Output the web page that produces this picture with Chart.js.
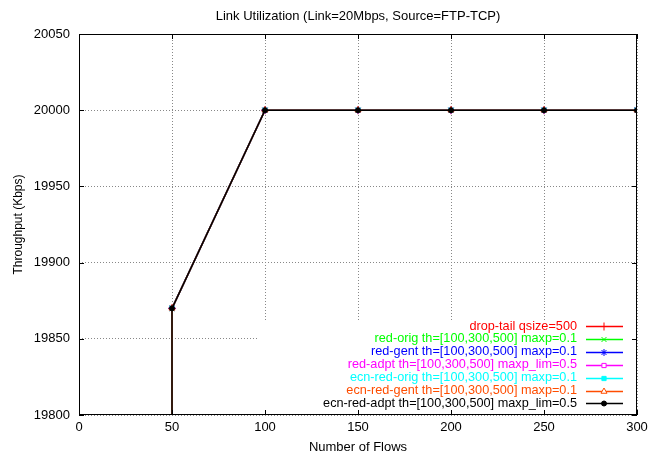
<!DOCTYPE html>
<html>
<head>
<meta charset="utf-8">
<script src="https://cdn.jsdelivr.net/npm/chart.js@4"></script>
<style>
  html, body { margin: 0; padding: 0; background: #fff; }
</style>
</head>
<body>
<canvas id="myChart" width="666" height="457"></canvas>
<script>
// data (all seven runs sit on top of each other)
const flows = [50, 50, 100, 150, 200, 250, 300];
const dropTail    = [19700, 19870, 20000, 20000, 20000, 20000, 20000];
const redOrig     = [19700, 19870, 20000, 20000, 20000, 20000, 20000];
const redGent     = [19700, 19870, 20000, 20000, 20000, 20000, 20000];
const redAdpt     = [19700, 19870, 20000, 20000, 20000, 20000, 20000];
const ecnRedOrig  = [19700, 19870, 20000, 20000, 20000, 20000, 20000];
const ecnRedGent  = [19700, 19870, 20000, 20000, 20000, 20000, 20000];
const ecnRedAdpt  = [19700, 19870, 20000, 20000, 20000, 20000, 20000];

const seriesNames = [
  'drop-tail qsize=500',
  'red-orig th=[100,300,500] maxp=0.1',
  'red-gent th=[100,300,500] maxp=0.1',
  'red-adpt th=[100,300,500] maxp_lim=0.5',
  'ecn-red-orig th=[100,300,500] maxp=0.1',
  'ecn-red-gent th=[100,300,500] maxp=0.1',
  'ecn-red-adpt th=[100,300,500] maxp_lim=0.5'
];
const seriesValues = [dropTail, redOrig, redGent, redAdpt, ecnRedOrig, ecnRedGent, ecnRedAdpt];

const xTicks = [0, 50, 100, 150, 200, 250, 300];
const yTicks = [19800, 19850, 19900, 19950, 20000, 20050];

const chartTitle = 'Link Utilization (Link=20Mbps, Source=FTP-TCP)';
const xTitle = 'Number of Flows';
const yTitle = 'Throughput (Kbps)';

const FONT = '"Liberation Sans", Arial, sans-serif';

// gnuplot-ish looks
const colors = ['#ff0000', '#00ff00', '#0000ff', '#ff00ff', '#00ffff', '#ff4d00', '#000000'];
const styles = ['cross', 'crossRot', 'star', 'rect', 'rect', 'triangle', 'circle'];
const filled = [false, false, false, false, true, false, true];
const radii = [4, 3.5, 3.5, 3, 3, 3.5, 2.5];

let datasets = seriesValues.map((vals, i) => ({
  label: seriesNames[i],
  data: flows.map((f, j) => ({ x: f, y: vals[j] })),
  borderColor: colors[i],
  backgroundColor: filled[i] ? colors[i] : 'rgba(0,0,0,0)',
  borderWidth: 1.5,
  pointStyle: styles[i],
  pointRadius: radii[i],
  pointBorderWidth: 1,
  pointHoverRadius: radii[i],
  tension: 0,
  order: seriesValues.length - 1 - i
}));

const framePlugin = {
  id: 'frame',
  beforeDatasetsDraw(chart) {
    // key box is opaque and hides the grid behind it
    const a = chart.chartArea;
    const ctx = chart.ctx;
    ctx.save();
    ctx.fillStyle = '#fff';
    ctx.fillRect(a.right - 378, a.bottom - 94, 377, 93);
    ctx.restore();
  },
  afterDraw(chart) {
    const a = chart.chartArea;
    const ctx = chart.ctx;
    const xs = chart.scales.x, ys = chart.scales.y;
    ctx.save();
    ctx.setLineDash([]);
    ctx.strokeStyle = '#000';
    ctx.lineWidth = 1;
    ctx.strokeRect(Math.round(a.left) + 0.5, Math.round(a.top) + 0.5,
                   Math.round(a.right - a.left) - 1, Math.round(a.bottom - a.top) - 1);
    // inward ticks on all sides
    ctx.beginPath();
    xTicks.forEach(v => {
      let px = Math.round(xs.getPixelForValue(v)) + 0.5;
      ctx.moveTo(px, a.bottom); ctx.lineTo(px, a.bottom - 5);
      ctx.moveTo(px, a.top); ctx.lineTo(px, a.top + 5);
    });
    yTicks.forEach(v => {
      let py = Math.round(ys.getPixelForValue(v)) + 0.5;
      ctx.moveTo(a.left, py); ctx.lineTo(a.left + 5, py);
      ctx.moveTo(a.right, py); ctx.lineTo(a.right - 5, py);
    });
    ctx.stroke();

    // title
    ctx.fillStyle = '#000';
    ctx.font = '13px ' + FONT;
    ctx.textAlign = 'center';
    ctx.textBaseline = 'middle';
    ctx.fillText(chartTitle, (a.left + a.right) / 2, 16);

    // key
    ctx.font = '12.7px ' + FONT;
    ctx.textAlign = 'right';
    seriesNames.forEach((name, i) => {
      let y = a.bottom - 89 + i * 12.9;
      ctx.fillStyle = colors[i];
      ctx.fillText(name, a.right - 60, y);
      ctx.setLineDash([]);
      ctx.strokeStyle = colors[i];
      ctx.lineWidth = 1.3;
      ctx.beginPath();
      ctx.moveTo(a.right - 51, Math.round(y) + 0.5);
      ctx.lineTo(a.right - 14, Math.round(y) + 0.5);
      ctx.stroke();
      ctx.lineWidth = 1;
      ctx.fillStyle = filled[i] ? colors[i] : '#fff';
      Chart.helpers.drawPoint(ctx, { pointStyle: styles[i], radius: radii[i], rotation: 0, borderWidth: 1 },
                              a.right - 33, Math.round(y) + 0.5);
    });
    ctx.restore();
  }
};

let ctx = document.getElementById('myChart').getContext('2d');
let chart = new Chart(ctx, {
  type: 'line',
  data: { datasets: datasets },
  options: {
    responsive: false,
    animation: false,
    events: [],
    layout: { padding: { top: 34, right: 29, left: 0, bottom: 0 } },
    plugins: {
      legend: { display: false },
      title: { display: false },
      tooltip: { enabled: false }
    },
    scales: {
      x: {
        type: 'linear',
        min: 0, max: 300,
        afterBuildTicks: s => { s.ticks = xTicks.map(v => ({ value: v })); },
        afterFit: s => { s.height = 42; },
        grid: { color: '#888', drawTicks: false, lineWidth: 1 },
        border: { display: false, dash: [1, 2] },
        ticks: { color: '#000', font: { family: FONT, size: 13 }, padding: 5, maxRotation: 0 },
        title: { display: true, text: xTitle, color: '#000', font: { family: FONT, size: 13 }, padding: { top: 0, bottom: 2 } }
      },
      y: {
        type: 'linear',
        min: 19800, max: 20050,
        afterBuildTicks: s => { s.ticks = yTicks.map(v => ({ value: v })); },
        afterFit: s => { s.width = 79; },
        grid: { color: '#888', drawTicks: false, lineWidth: 1 },
        border: { display: false, dash: [1, 2] },
        ticks: { color: '#000', font: { family: FONT, size: 13 }, padding: 9, callback: v => String(v) },
        title: { display: true, text: yTitle, color: '#000', font: { family: FONT, size: 12 }, padding: { top: 11, bottom: 0 } }
      }
    }
  },
  plugins: [framePlugin]
});
</script>
</body>
</html>
